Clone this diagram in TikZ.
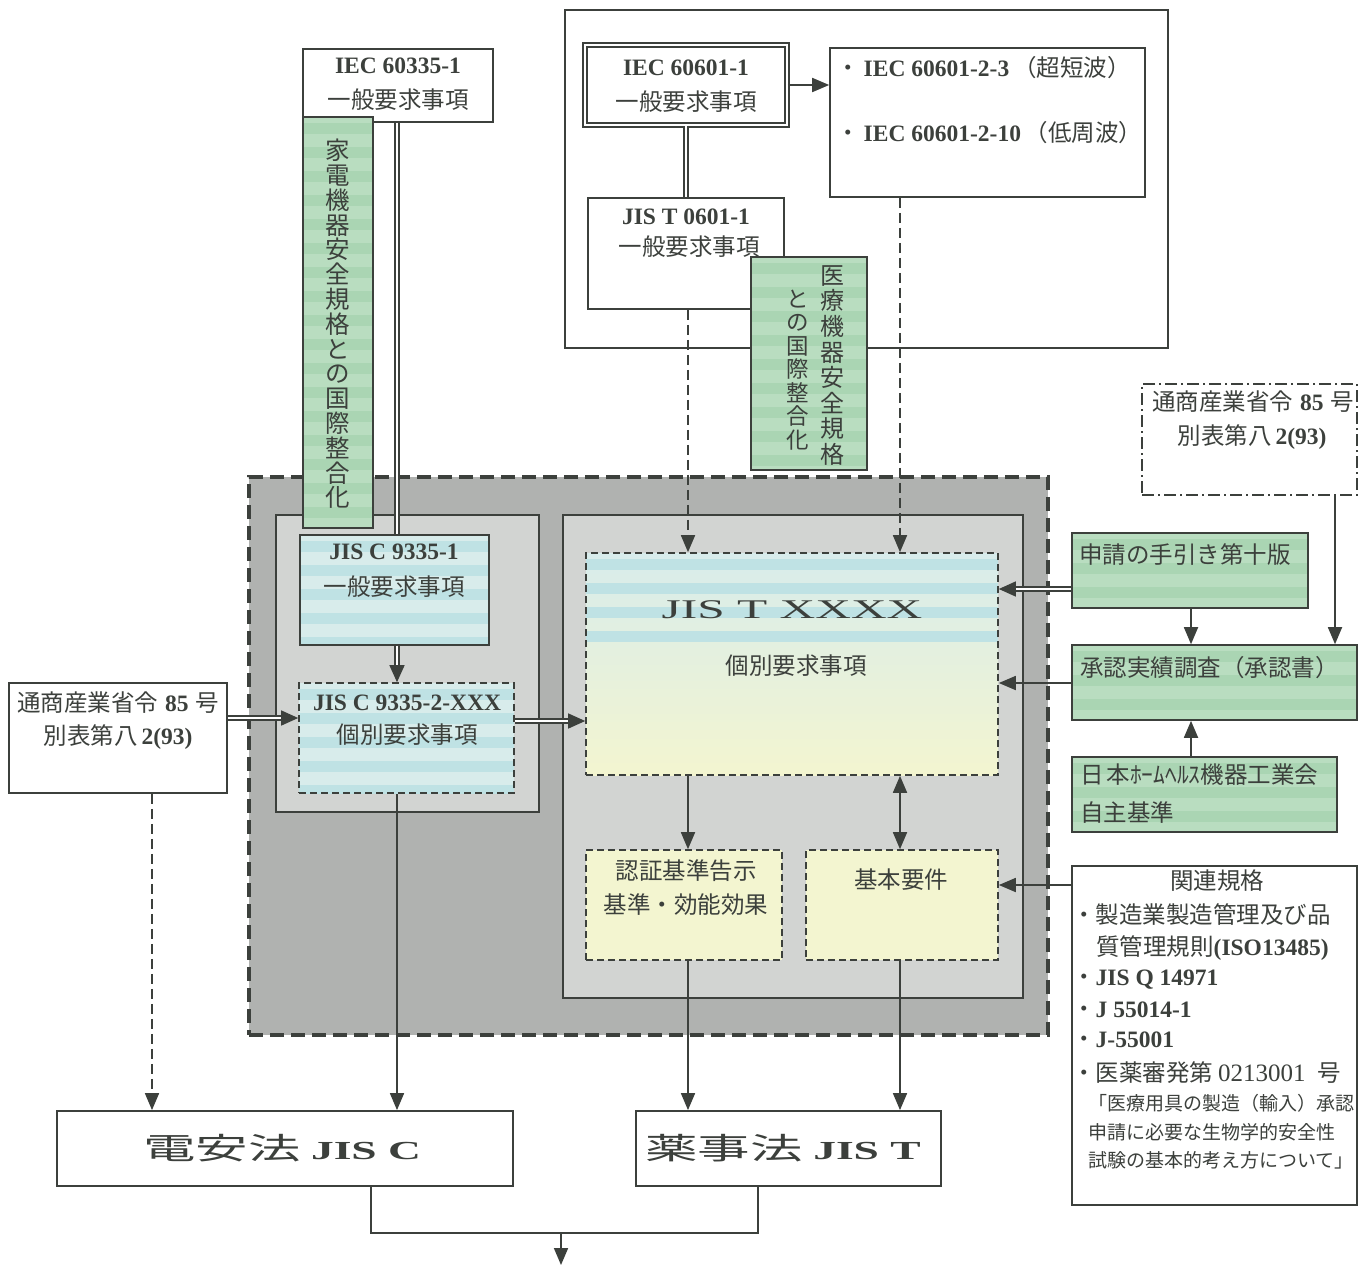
\documentclass[tikz,border=0pt]{standalone}
\usepackage{fontspec}
\usepackage{graphicx}
\setmainfont{Noto Sans CJK JP}
\newfontfamily\tms{Liberation Serif}
\usetikzlibrary{arrows.meta,calc}
\definecolor{ink}{HTML}{3C403C}
\definecolor{regiongray}{HTML}{B0B2B0}
\definecolor{innergray}{HTML}{D2D4D2}
\definecolor{greenfill}{HTML}{B9DDC0}
\definecolor{greenstripe}{HTML}{AAD5B3}
\definecolor{cyanbase}{HTML}{D8ECEB}
\definecolor{cyanstripe}{HTML}{BFE2E4}
\definecolor{paleyellow}{HTML}{F3F5D0}
\newcommand\tb[1]{{\tms\bfseries #1}}
\begin{document}
\begin{tikzpicture}[x=1pt,y=-1pt,
  box/.style={draw=ink, line width=1.6pt, fill=white, inner sep=0pt},
  dbox/.style={box, dash pattern=on 7pt off 4pt},
  stripesn/.style 2 args={path picture={
    \foreach \k in {0,...,#2}{
      \fill[#1] ($(path picture bounding box.north west)+(0,\k*24+6)$) rectangle ($(path picture bounding box.north east)+(0,\k*24+17)$);}}},
  stripes/.style={stripesn={#1}{20}},
  gbox/.style={box, fill=greenfill, stripes=greenstripe},
  txt/.style={inner sep=0pt, text=ink, font=\fontsize{23.5}{28}\selectfont},
  smalltxt/.style={txt, font=\fontsize{19}{23}\selectfont},
  conn/.style={draw=ink, line width=1.7pt},
  arrowhd/.style={-{Triangle[length=17pt,width=14pt]}},
  arr/.style={conn, arrowhd},
  darr/.style={conn, arrowhd, dash pattern=on 10pt off 5pt},
  dbl/.style={draw=ink, line width=1.3pt, double=white, double distance=2.6pt},
  dblarr/.style={dbl, -{Triangle[length=17pt,width=15pt]}},
]
\fill[white] (0,0) rectangle (1359,1266);
\useasboundingbox (0,0) rectangle (1359,1266);

% helper coordinates for connector positions
\coordinate (c152) at (152,0);
\coordinate (c371) at (371,0);
\coordinate (c397) at (397,0);
\coordinate (c688) at (688,0);
\coordinate (c758) at (758,0);
\coordinate (c900) at (900,0);
\coordinate (c1191) at (1191,0);
\coordinate (c1335) at (1335,0);
\coordinate (y589) at (0,589);
\coordinate (y683) at (0,683);
\coordinate (y718) at (0,718);
\coordinate (y721) at (0,721);
\coordinate (y885) at (0,885);

% ---------- top area ----------
\node[box, minimum width=603pt, minimum height=338pt] (topframe) at (866.5,179) {};
\node[box, minimum width=190pt, minimum height=73pt] (iec335) at (398,85.5) {};
\node[txt] (iec335a) at (398,66) {\tb{IEC 60335-1}};
\node[txt] (iec335b) at (398,100) {一般要求事項};

\node[box, line width=1.6pt, double=white, double distance=2.8pt, minimum width=202pt, minimum height=80pt] (iec601) at (686,85) {};
\node[txt] (iec601a) at (686,68) {\tb{IEC 60601-1}};
\node[txt] (iec601b) at (686,102) {一般要求事項};

\node[box, minimum width=315pt, minimum height=149pt] (iec6012) at (987.5,122.5) {};
\node[txt, anchor=west] (iec6012a) at (836,68) {・\hspace{4pt}\tb{IEC 60601-2-3}\,（超短波）};
\node[txt, anchor=west] (iec6012b) at (836,133) {・\hspace{4pt}\tb{IEC 60601-2-10}\,（低周波）};

\node[box, minimum width=196pt, minimum height=111pt] (jist0601) at (686,253.5) {};
\node[txt] (jist0601a) at (686,217) {\tb{JIS T 0601-1}};
\node[txt] (jist0601b) at (689,247) {一般要求事項};

\node[gbox, minimum width=116pt, minimum height=213pt] (med) at (809,363.5) {};
\node[txt, font=\fontsize{24}{25.6}\selectfont, align=center] (meda) at (832,365.5) {医\\療\\機\\器\\安\\全\\規\\格};
\node[txt, font=\fontsize{22.5}{23.5}\selectfont, align=center] (medb) at (798,370) {と\\の\\国\\際\\整\\合\\化};

% ---------- central gray region ----------
\node[draw=ink, fill=regiongray, line width=3.5pt, dash pattern=on 14pt off 7pt, inner sep=0pt, minimum width=799pt, minimum height=558pt] (region) at (648.5,756) {};
\node[box, fill=innergray, minimum width=263pt, minimum height=297pt] (innerL) at (407.5,663.5) {};
\node[box, fill=innergray, minimum width=460pt, minimum height=483pt] (innerR) at (793,756.5) {};

\node[gbox, minimum width=70pt, minimum height=411pt] (kaden) at (338,322.5) {};
\node[txt, font=\fontsize{24.5}{24.8}\selectfont, align=center] (kadent) at (338,324) {家\\電\\機\\器\\安\\全\\規\\格\\と\\の\\国\\際\\整\\合\\化};

\node[box, fill=cyanbase, stripes=cyanstripe, minimum width=189pt, minimum height=110pt] (jisc1) at (394.5,590) {};
\node[txt] (jisc1a) at (394,552) {\tb{JIS C 9335-1}};
\node[txt] (jisc1b) at (394,587) {一般要求事項};

\node[dbox, fill=cyanbase, stripes=cyanstripe, minimum width=215pt, minimum height=110pt] (jisc2) at (406.5,738) {};
\node[txt] (jisc2a) at (407,703) {\tb{JIS C 9335-2-XXX}};
\node[txt] (jisc2b) at (407,735) {個別要求事項};

\node[dbox, top color=cyanbase, bottom color=paleyellow, stripesn={cyanstripe}{3}, minimum width=412pt, minimum height=222pt] (jistx) at (792,664) {};
\node[txt] (jistxa) at (792,610) {\scalebox{1.83}[1]{\fontsize{27}{30}\selectfont\tms JIS T XXXX}};
\node[txt] (jistxb) at (796,666) {個別要求事項};

\node[dbox, fill=paleyellow, minimum width=196pt, minimum height=110pt] (nintei) at (684,905) {};
\node[txt] (ninteia) at (686,871) {認証基準告示};
\node[txt] (ninteib) at (686,905) {基準・効能効果};

\node[dbox, fill=paleyellow, minimum width=192pt, minimum height=110pt] (kihon) at (902,905) {};
\node[txt] (kihona) at (901,880) {基本要件};

% ---------- left ----------
\node[box, minimum width=218pt, minimum height=110pt] (tsusanL) at (118,738) {};
\node[txt] (tsusanLa) at (118,703) {通商産業省令\hspace{7pt}\tb{85}\hspace{7pt}号};
\node[txt] (tsusanLb) at (118,737) {別表第八\hspace{4pt}\tb{2(93)}};

% ---------- right ----------
\node[box, dash pattern=on 12pt off 4pt on 2pt off 4pt, minimum width=215pt, minimum height=111pt] (tsusanR) at (1249.5,439.5) {};
\node[txt] (tsusanRa) at (1253,402) {通商産業省令\hspace{7pt}\tb{85}\hspace{7pt}号};
\node[txt] (tsusanRb) at (1252,437) {別表第八\hspace{4pt}\tb{2(93)}};

\node[gbox, minimum width=236pt, minimum height=75pt] (shinsei) at (1190,570.5) {};
\node[txt, anchor=west] (shinseia) at (1079,555) {申請の手引き第十版};

\node[gbox, minimum width=285pt, minimum height=75pt] (shounin) at (1214.5,682.5) {};
\node[txt, anchor=west] (shounina) at (1080,668) {承認実績調査（承認書）};

\node[gbox, minimum width=265pt, minimum height=75pt] (nihon) at (1204.5,794.5) {};
\node[txt, anchor=west] (nihona) at (1080,775) {日\hspace{3pt}本ﾎｰﾑﾍﾙｽ機器工業会};
\node[txt, anchor=west] (nihonb) at (1080,813) {自主基準};

\node[box, minimum width=285pt, minimum height=339pt] (kanren) at (1214.5,1035.5) {};
\node[txt] (kan0) at (1217,881) {関連規格};
\node[txt, anchor=west] (kan1) at (1072,915) {・製造業製造管理及び品};
\node[txt, anchor=west] (kan2) at (1096,948) {質管理規則\tb{(ISO13485)}};
\node[txt, anchor=west] (kan3) at (1072,980) {・\tb{JIS Q 14971}};
\node[txt, anchor=west] (kan4) at (1072,1010) {・\tb{J 55014-1}};
\node[txt, anchor=west] (kan5) at (1072,1040) {・\tb{J-55001}};
\node[txt, anchor=west] (kan6) at (1072,1073) {・医薬審発第\hspace{5pt}{\tms\fontsize{25}{28}\selectfont 0213001}\hspace{12pt}号};
\node[smalltxt, anchor=west] (kan7) at (1088,1103) {「医療用具の製造（輸入）承認};
\node[smalltxt, anchor=west] (kan8) at (1088,1132) {申請に必要な生物学的安全性};
\node[smalltxt, anchor=west] (kan9) at (1088,1160) {試験の基本的考え方について」};

% ---------- bottom ----------
\node[box, line width=1.8pt, minimum width=456pt, minimum height=75pt] (denan) at (285,1148.5) {};
\node[txt] (denana) at (282,1148) {\scalebox{1.75}[1]{\fontsize{30}{34}\selectfont 電安法\hspace{6pt}{\tms\bfseries\fontsize{26}{30}\selectfont JIS C}}};
\node[box, line width=1.8pt, minimum width=305pt, minimum height=75pt] (yakuji) at (788.5,1148.5) {};
\node[txt] (yakujia) at (783,1148) {\scalebox{1.75}[1]{\fontsize{30}{34}\selectfont 薬事法\hspace{6pt}{\tms\bfseries\fontsize{26}{30}\selectfont JIS T}}};

\coordinate (merge) at (561,1233);
\coordinate (out) at (561,1265);

% ---------- connectors ----------
\draw[dbl] (iec335.south -| c397) -- (jisc1.north -| c397);
\draw[arr] (iec601.east) -- (iec601.east -| iec6012.west);
\draw[dbl] (iec601.south) -- (jist0601.north -| iec601.south);
\draw[darr] (jist0601.south -| c688) -- (jistx.north -| c688);
\draw[darr] (iec6012.south -| c900) -- (jistx.north -| c900);
\draw[dblarr] (jisc1.south -| c397) -- (jisc2.north -| c397);
\draw[dblarr] (tsusanL.east |- y718) -- (jisc2.west |- y718);
\draw[dblarr] (jisc2.east |- y721) -- (jistx.west |- y721);
\draw[arr] (jistx.south -| c688) -- (nintei.north -| c688);
\draw[conn, {Triangle[length=17pt,width=14pt]}-{Triangle[length=17pt,width=14pt]}] (jistx.south -| c900) -- (kihon.north -| c900);
\draw[dblarr] (shinsei.west |- y589) -- (jistx.east |- y589);
\draw[arr] (shounin.west |- y683) -- (jistx.east |- y683);
\draw[arr] (kanren.west |- y885) -- (kihon.east |- y885);
\draw[arr] (shinsei.south -| c1191) -- (shounin.north -| c1191);
\draw[arr] (tsusanR.south -| c1335) -- (shounin.north -| c1335);
\draw[arr] (nihon.north -| c1191) -- (shounin.south -| c1191);
\draw[darr] (tsusanL.south -| c152) -- (denan.north -| c152);
\draw[arr] (jisc2.south -| c397) -- (denan.north -| c397);
\draw[arr] (nintei.south -| c688) -- (yakuji.north -| c688);
\draw[arr] (kihon.south -| c900) -- (yakuji.north -| c900);
\draw[conn] (denan.south -| c371) |- (merge) -| (yakuji.south -| c758);
\draw[arr] (merge) -- (out);
\end{tikzpicture}
\end{document}
